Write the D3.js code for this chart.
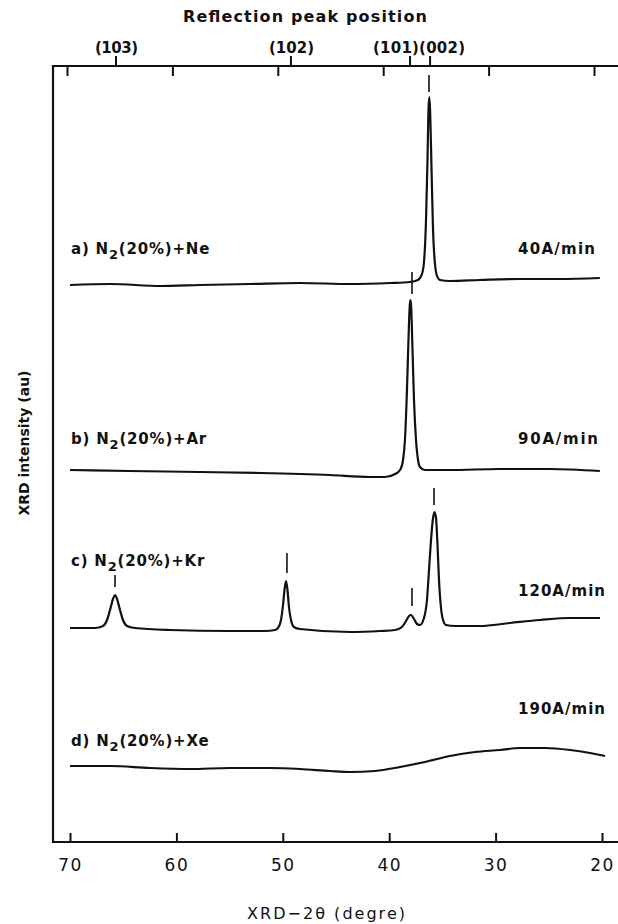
<!DOCTYPE html>
<html><head><meta charset="utf-8">
<script src="https://cdn.jsdelivr.net/npm/d3@7"></script>
<style>
html,body{margin:0;padding:0;background:#fff;}
svg text{font-family:"DejaVu Sans",sans-serif;font-weight:bold;fill:#111;}
</style></head><body>
<svg id="chart" width="618" height="924"></svg>
<script>
// ---------- data ----------
const xTickValues = [70, 60, 50, 40, 30, 20];
const reflectionNames = ["(103)", "(102)", "(101)", "(002)"];
const reflectionAngles = [65.4, 48.8, 37.5, 35.6];

const sampleLetters = ["a", "b", "c", "d"];
const sampleGases = ["Ne", "Ar", "Kr", "Xe"];
const depositionRates = ["40A/min", "90A/min", "120A/min", "190A/min"];

// [2theta (deg), intensity (a.u., stacked)]
const seriesA = [[70.0,557],[66.2,558],[61.5,556],[57.8,557],[53.1,558],[48.4,559],[43.7,558],[39.9,559],[38.05,560],[37.3,562],[36.92,568],[36.73,580],[36.54,622],[36.40,682],[36.31,732],[36.23,745],[36.15,730],[36.02,672],[35.88,612],[35.69,577],[35.50,566],[35.23,562],[34.3,561],[31.5,562],[27.7,563],[24.0,563],[20.2,564]];
const seriesB = [[70,372],[64.4,371],[57.8,370],[52.1,369],[45.6,367],[41.8,365],[40.4,365],[39.45,368],[38.98,372],[38.70,382],[38.52,402],[38.33,452],[38.19,502],[38.06,538],[38.0,542],[37.94,536],[37.81,492],[37.67,442],[37.48,402],[37.29,382],[37.11,375],[36.64,372],[34.3,372],[29.6,373],[24.9,373],[20.2,371]];
const seriesC = [[70,214],[67.65,214],[66.90,216],[66.52,222],[66.24,232],[65.96,243],[65.77,247],[65.58,243],[65.30,232],[65.02,222],[64.64,216],[63.89,214],[60.6,212],[55.0,211],[51.67,211],[50.73,212],[50.45,214],[50.17,222],[49.98,237],[49.84,252],[49.70,261],[49.56,252],[49.42,235],[49.23,222],[48.95,215],[48.38,213],[43.68,210],[40.86,211],[39.45,212],[38.80,215],[38.42,221],[38.14,226],[37.95,227],[37.67,223],[37.39,218],[37.11,217],[36.73,224],[36.45,242],[36.26,272],[36.07,302],[35.88,324],[35.74,330],[35.60,324],[35.46,297],[35.32,262],[35.13,234],[34.94,222],[34.66,217],[33.82,216],[31.47,216],[28.65,219],[25.83,222],[23.0,224],[20.19,224]];
const seriesD = [[70,76],[66.24,76],[62.48,74],[58.72,73],[54.96,74],[51.2,74],[48.38,73],[45.56,71],[43.68,70],[41.33,71],[38.98,75],[36.64,80],[34.29,86],[31.94,90],[29.59,92],[27.71,94],[25.36,94],[23.0,92],[21.13,89],[19.72,86]];

// peak markers: [2theta, low, high]
const peakMarks = [[36.26,750,767],[37.86,548,570],[65.77,255,267],[49.61,269,289],[37.86,236,254],[35.79,337,354]];

// ---------- layout ----------
const svg = d3.select("#chart");
const INK = "#111";
const x = d3.scaleLinear().domain([70, 20]).range([70, 602]);
const xTop = d3.scaleLinear().domain([70, 20]).range([67, 594]);
const y = d3.scaleLinear().domain([0, 776]).range([842, 66]);

// frame (top, left, bottom)
svg.append("path").attr("d", "M618,66H53V842H618")
  .attr("fill", "none").attr("stroke", INK).attr("stroke-width", 2.2);

// top axis: inward ticks
svg.append("g").attr("transform", "translate(0,66)")
  .call(d3.axisBottom(xTop).tickValues(xTickValues).tickSize(10).tickFormat(""))
  .call(g => g.select(".domain").remove())
  .call(g => g.selectAll("line").attr("stroke", INK).attr("stroke-width", 2));

// reflection ticks (outward)
svg.append("g").attr("transform", "translate(0,66)")
  .call(d3.axisTop(xTop).tickValues(reflectionAngles).tickSize(10).tickFormat(""))
  .call(g => g.select(".domain").remove())
  .call(g => g.selectAll("line").attr("stroke", INK).attr("stroke-width", 2));

// bottom axis
svg.append("g").attr("transform", "translate(0,842)")
  .call(d3.axisBottom(x).tickValues(xTickValues).tickSize(-9).tickPadding(17).tickFormat(d3.format("d")))
  .call(g => g.select(".domain").remove())
  .call(g => g.selectAll("line").attr("stroke", INK).attr("stroke-width", 2))
  .call(g => g.selectAll("text").attr("font-size", 17).attr("fill", INK)
      .style("font-family", '"DejaVu Sans",sans-serif').style("font-weight", "normal").style("letter-spacing", "1.5px"));

// titles
svg.append("text").attr("x", 183).attr("y", 22).attr("font-size", 16)
  .attr("textLength", 244).attr("lengthAdjust", "spacing").text("Reflection peak position");

const reflLabelPos = [[95, 43], [269, 45], [373, 92]];
svg.append("text").attr("x", reflLabelPos[0][0]).attr("y", 53).attr("font-size", 15)
  .attr("textLength", reflLabelPos[0][1]).attr("lengthAdjust", "spacing").text(reflectionNames[0]);
svg.append("text").attr("x", reflLabelPos[1][0]).attr("y", 53).attr("font-size", 15)
  .attr("textLength", reflLabelPos[1][1]).attr("lengthAdjust", "spacing").text(reflectionNames[1]);
svg.append("text").attr("x", reflLabelPos[2][0]).attr("y", 53).attr("font-size", 15)
  .attr("textLength", reflLabelPos[2][1]).attr("lengthAdjust", "spacing").text(reflectionNames[2] + reflectionNames[3]);

svg.append("text").attr("x", 247).attr("y", 919).attr("font-size", 16).style("font-weight", "normal")
  .attr("textLength", 158).attr("lengthAdjust", "spacing").text("XRD\u22122\u03b8 (degre)");

svg.append("text").attr("transform", "translate(29,443) rotate(-90)").attr("text-anchor", "middle")
  .attr("font-size", 14).text("XRD intensity (au)");

// traces
const line = d3.line().x(d => x(d[0])).y(d => y(d[1])).curve(d3.curveMonotoneX);
const allSeries = [seriesA, seriesB, seriesC, seriesD];
allSeries.forEach(s => {
  const sorted = s.slice().sort((p, q) => q[0] - p[0]);
  svg.append("path").attr("d", line(sorted)).attr("fill", "none")
    .attr("stroke", INK).attr("stroke-width", 2.2).attr("stroke-linejoin", "round");
});

// peak markers
svg.append("g").selectAll("line").data(peakMarks).join("line")
  .attr("x1", d => x(d[0])).attr("x2", d => x(d[0]))
  .attr("y1", d => y(d[1])).attr("y2", d => y(d[2]))
  .attr("stroke", INK).attr("stroke-width", 1.6);

// sample labels
const labelLayout = [[254, 254, 77], [444, 444, 80], [566, 596, 87], [746, 714, 87]];
sampleLetters.forEach((l, i) => {
  const t = svg.append("text").attr("x", 71).attr("y", labelLayout[i][0]).attr("font-size", 15)
    .style("letter-spacing", "0.8px");
  t.append("tspan").text(l + ") N");
  t.append("tspan").attr("dy", 5).attr("font-size", 13).text("2");
  t.append("tspan").attr("dy", -5).text("(20%)+" + sampleGases[i]);
  svg.append("text").attr("x", 518).attr("y", labelLayout[i][1]).attr("font-size", 15)
    .attr("textLength", labelLayout[i][2]).attr("lengthAdjust", "spacing").text(depositionRates[i]);
});
</script>
</body></html>
